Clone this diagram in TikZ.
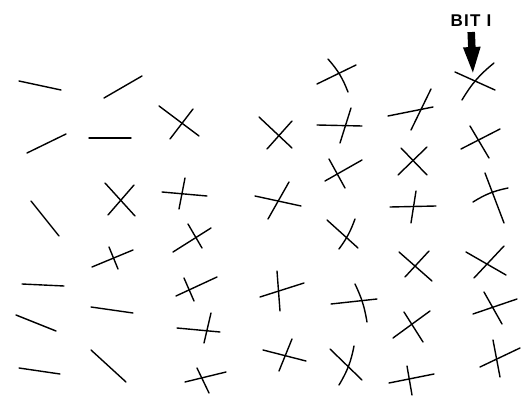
\documentclass[tikz,border=0pt]{standalone}
\usepackage{fontspec}
\newfontfamily\bitfont[LetterSpace=8]{Liberation Sans}
\usetikzlibrary{arrows.meta}

\begin{document}
\begin{tikzpicture}[
    x=1pt, y=-1pt,
    stroke/.style={line width=1.4pt, line cap=round},
    bitarrow/.style={-{Triangle[width=15pt, length=29pt]}, line width=7.5pt, shorten <=5pt}
]
\useasboundingbox (0,0) rectangle (531,396);

% single strokes
\foreach \xa/\ya/\xb/\yb in {19/81/61/90, 104/98/142/76, 27/153/66/134, 89/138/131/138,
    31/201/59/236, 22/284/64/286, 91/307/133/313, 16/315/56/331, 19/368/60/374, 91/350/126/382}
  \draw[stroke] (\xa,\ya) -- (\xb,\yb);

% crosses, two strokes each
\foreach \xa/\ya/\xb/\yb/\xc/\yc/\xd/\yd/\bb in {
    105/183/135/216/108/215/134/185/0, 92/267/133/250/109/247/118/269/0,
    159/106/199/136/170/139/193/109/0, 162/192/207/196/185/178/179/209/0,
    173/252/211/228/188/224/202/248/0, 176/296/217/277/184/278/194/301/0,
    177/328/220/332/211/313/204/343/0, 185/382/226/372/197/368/209/393/0,
    259/117/292/148/267/149/292/121/0, 255/196/301/206/289/182/268/219/0,
    260/297/304/283/277/271/280/311/0, 263/350/306/361/292/339/279/371/0,
    317/84/356/65/328/59/348/92/10, 317/125/362/126/351/108/340/143/0,
    325/181/362/160/329/159/345/188/0, 327/220/358/248/355/219/339/249/8,
    331/304/377/299/355/284/367/322/8, 330/349/362/380/354/346/339/385/10,
    388/116/433/107/431/89/411/130/0, 398/175/427/147/401/148/427/175/0,
    390/207/436/206/416/191/411/223/0, 399/252/432/281/405/277/429/251/0,
    393/338/430/311/404/312/423/342/0, 389/383/434/374/407/366/412/395/0,
    455/72/495/90/462/100/494/63/10, 461/149/500/129/470/126/489/158/0,
    485/173/504/223/473/202/508/188/10, 466/252/506/275/474/278/504/246/0,
    473/314/517/299/484/292/502/324/0, 480/367/520/348/493/340/500/377/0}
{
  \draw[stroke] (\xa,\ya) -- (\xb,\yb);
  \draw[stroke] (\xc,\yc) to[bend left=\bb] (\xd,\yd);
}

\node[font=\bitfont\bfseries\fontsize{17}{19}\selectfont, inner sep=0pt] (bit) at (471,21) {BIT I};
\coordinate (tip) at (473,76);
\draw[bitarrow] (bit.south) -- (tip);
\end{tikzpicture}
\end{document}
